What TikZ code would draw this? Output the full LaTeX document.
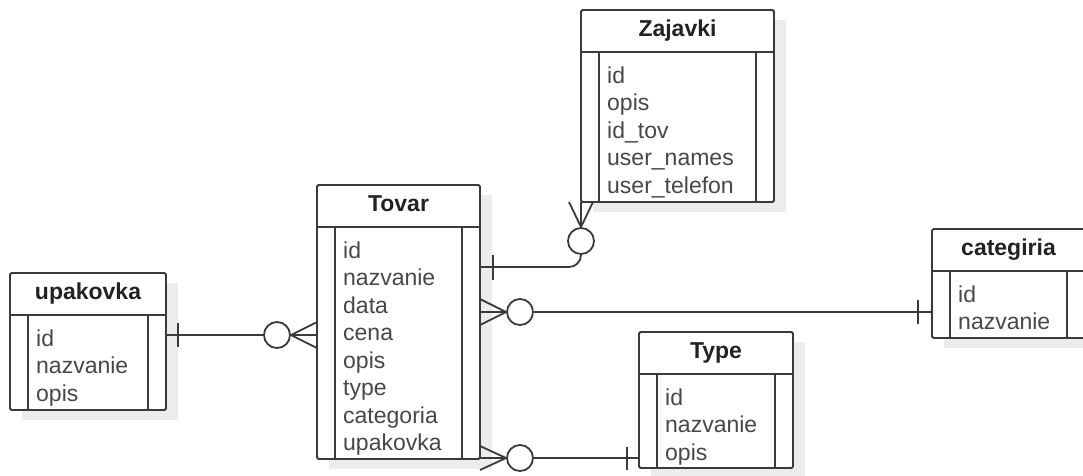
\documentclass[tikz,border=0pt]{standalone}
\usepackage{fontspec}
\setmainfont{Liberation Sans}
\usetikzlibrary{calc}

\definecolor{ink}{HTML}{3A3A3A}
\definecolor{attrtext}{HTML}{474747}
\definecolor{titletext}{HTML}{222222}
\definecolor{dropgray}{HTML}{ECECEC}

\tikzset{
  erline/.style={draw=ink, line width=1.8pt},
  tbl/.style={erline, fill=white, rounded corners=1.5pt, inner sep=0pt, outer sep=0pt, anchor=north west},
  ttl/.style={font=\fontsize{23}{27}\selectfont\bfseries, text=titletext, anchor=base, inner sep=0pt},
  fld/.style={font=\fontsize{23}{27}\selectfont, text=attrtext, anchor=base west, inner sep=0pt},
  zcirc/.style={erline, fill=white, circle, minimum size=26pt, inner sep=0pt},
  dropshadow/.style={fill=dropgray, draw=none},
}

% entity box: name, left x, top y, width, height, title, list of fields
\newcommand\entity[7]{%
  \path[dropshadow] ({#2+12},{#3+10}) rectangle ++(#4,#5);
  \node[tbl, minimum width=#4, minimum height=#5] (#1) at (#2,#3) {};
  \draw[erline] ($(#1.north west)+(0,42)$) -- ($(#1.north east)+(0,42)$);
  \draw[erline] ($(#1.north west)+(18,42)$) -- ($(#1.south west)+(18,0)$);
  \draw[erline] ($(#1.north east)+(-18,42)$) -- ($(#1.south east)+(-18,0)$);
  \node[ttl] (#1-t) at ($(#1.north)+(0,26.5)$) {#6};
  \foreach \f [count=\i from 0] in {#7}
    \node[fld] (#1-\i) at ($(#1.north west)+(26,{73+27.5*\i})$) {\f};
}

\begin{document}
\begin{tikzpicture}[x=1pt, y=-1pt]
\useasboundingbox (0,0) rectangle (1083,475);
\clip (0,0) rectangle (1083,475);

\entity{zajavki}{581}{10}{193}{192}{Zajavki}{id, opis, id\_tov, user\_names, user\_telefon}
\entity{tovar}{317}{185}{163}{274}{Tovar}{id, nazvanie, data, cena, opis, type, categoria, upakovka}
\entity{upakovka}{10}{273}{156}{137}{upakovka}{id, nazvanie, opis}
\entity{typ}{639}{332}{154}{136}{Type}{id, nazvanie, opis}
\entity{categiria}{932}{229}{153}{109}{categiria}{id, nazvanie}

% Tovar -- Zajavki (one to zero-or-many)
\coordinate (zt) at ($(tovar.north east)+(0,82)$);
\coordinate (zb) at (zajavki.south west);
\node[zcirc] (zc) at ($(zb)+(0,39)$) {};
\draw[erline, rounded corners=12pt] (zt) -- (zt -| zc) -- (zc.south);
\draw[erline] ($(zt)+(13,-12.5)$) -- ($(zt)+(13,12.5)$);
\draw[erline] (zc.north) -- (zb);
\draw[erline] ($(zb)+(-12,0)$) -- ($(zb)+(0,25)$) -- ($(zb)+(12,0)$);

% Tovar -- categiria
\coordinate (ct) at ($(tovar.north east)+(0,127)$);
\node[zcirc] (cc) at ($(ct)+(40,0)$) {};
\coordinate (ce) at (cc.east -| categiria.west);
\draw[erline] (cc.east) -- (ce);
\draw[erline] ($(ce)+(-14,-12)$) -- ($(ce)+(-14,12)$);
\draw[erline] (ct) -- (cc.west);
\draw[erline] ($(ct)+(0,-13)$) -- ($(ct)+(26,0)$) -- ($(ct)+(0,13)$);

% Tovar -- Type
\coordinate (tt) at ($(tovar.south east)+(0,-1)$);
\node[zcirc] (tc) at ($(tt)+(40,0)$) {};
\coordinate (te) at (tc.east -| typ.west);
\draw[erline] (tc.east) -- (te);
\draw[erline] ($(te)+(-12,-11.5)$) -- ($(te)+(-12,11.5)$);
\draw[erline] (tt) -- (tc.west);
\draw[erline] ($(tt)+(0,-12)$) -- ($(tt)+(26,0)$) -- ($(tt)+(0,12)$);

% upakovka -- Tovar
\coordinate (ut) at ($(upakovka.north east)+(0,62)$);
\coordinate (uv) at (ut -| tovar.west);
\node[zcirc] (uc) at ($(uv)+(-40,0)$) {};
\draw[erline] (ut) -- (uc.west);
\draw[erline] ($(ut)+(12,-12)$) -- ($(ut)+(12,12)$);
\draw[erline] (uc.east) -- (uv);
\draw[erline] ($(uv)+(0,-13)$) -- ($(uv)+(-26,0)$) -- ($(uv)+(0,13)$);
\end{tikzpicture}
\end{document}
